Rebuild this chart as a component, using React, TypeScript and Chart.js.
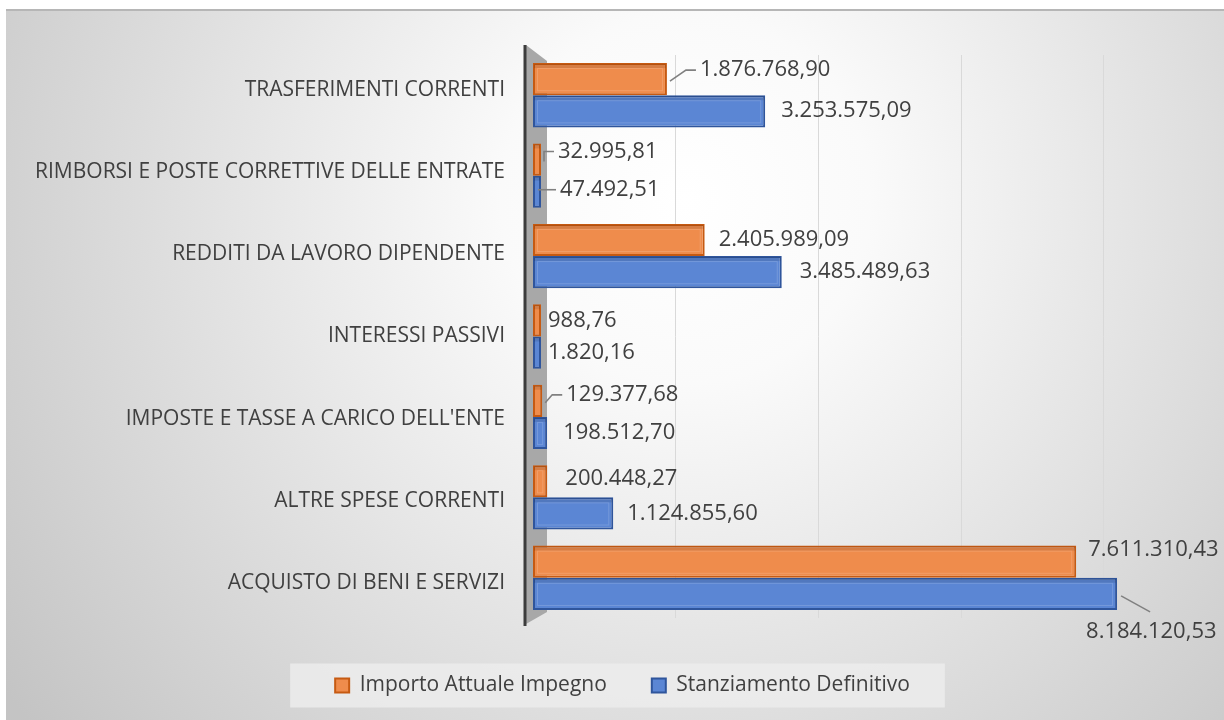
import React, { useEffect, useRef } from "react";
import { Chart, registerables } from "chart.js";

Chart.register(...registerables);

const categories = [
  "TRASFERIMENTI CORRENTI",
  "RIMBORSI E POSTE CORRETTIVE DELLE ENTRATE",
  "REDDITI DA LAVORO DIPENDENTE",
  "INTERESSI PASSIVI",
  "IMPOSTE E TASSE A CARICO DELL'ENTE",
  "ALTRE SPESE CORRENTI",
  "ACQUISTO DI BENI E SERVIZI",
];
const seriesNames = ["Importo Attuale Impegno", "Stanziamento Definitivo"];
const impegnoValues = [1876768.9, 32995.81, 2405989.09, 988.76, 129377.68, 200448.27, 7611310.43];
const stanziamentoValues = [3253575.09, 47492.51, 3485489.63, 1820.16, 198512.7, 1124855.6, 8184120.53];
const gridTicks = [2000000, 4000000, 6000000, 8000000];
const axisMax = 9500000;

const FONT = "'Open Sans', 'DejaVu Sans', sans-serif";
const TEXT = "#404040";

function formatIt(v: number): string {
  const [intPart, dec] = v.toFixed(2).split(".");
  return intPart.replace(/\B(?=(\d{3})+(?!\d))/g, ".") + "," + dec;
}

type LabelPos = { dx: number; dy: number; leader?: "elbow" | "flat" | "below" };
// label placement relative to the bar end / bar centre (presentation only)
const labelLayout: LabelPos[][] = [
  [
    { dx: 33, dy: -9, leader: "elbow" },
    { dx: 17, dy: -8, leader: "elbow" },
    { dx: 14, dy: 0 },
    { dx: 7, dy: 0 },
    { dx: 24, dy: -6, leader: "elbow" },
    { dx: 18, dy: -3 },
    { dx: 12, dy: -12 },
  ],
  [
    { dx: 16, dy: -1 },
    { dx: 19, dy: -2, leader: "flat" },
    { dx: 18, dy: 0 },
    { dx: 7, dy: 0 },
    { dx: 16, dy: 0 },
    { dx: 14, dy: 0 },
    { dx: -31, dy: 38, leader: "below" },
  ],
];

const PAD_LEFT = 28;

const backgroundPlugin = {
  id: "bgPlugin",
  beforeDraw(chart: any) {
    const { ctx, width, height } = chart;
    ctx.save();
    const g = ctx.createRadialGradient(680, 190, 0, 680, 190, 840);
    g.addColorStop(0, "#ffffff");
    g.addColorStop(0.22, "#fafafa");
    g.addColorStop(1, "#c4c4c4");
    ctx.fillStyle = g;
    ctx.fillRect(0, 0, width, height);
    ctx.fillStyle = "#b6b6b6";
    ctx.fillRect(0, 0, width, 2);
    // legend panel
    const lg = chart.legend;
    if (lg && lg.legendHitBoxes && lg.legendHitBoxes.length) {
      const hb = lg.legendHitBoxes;
      const first = hb[0];
      const last = hb[hb.length - 1];
      const left = first.left - 45;
      const right = last.left + last.width + 35;
      const cy = first.top + first.height / 2;
      ctx.fillStyle = "rgba(236,236,236,0.85)";
      ctx.fillRect(left, cy - 22, right - left, 44);
    }
    ctx.restore();
  },
  beforeDatasetsDraw(chart: any) {
    const { ctx, chartArea: a } = chart;
    ctx.save();
    // side wall + axis line
    const ax = a.left - 8;
    ctx.fillStyle = "#a8a8a8";
    ctx.beginPath();
    ctx.moveTo(ax + 1, a.top - 10);
    ctx.lineTo(a.left + 14, a.top + 6);
    ctx.lineTo(a.left + 14, a.bottom - 6);
    ctx.lineTo(ax + 1, a.bottom + 6);
    ctx.closePath();
    ctx.fill();
    ctx.strokeStyle = "#3c3c3c";
    ctx.lineWidth = 3;
    ctx.beginPath();
    ctx.moveTo(ax, a.top - 10);
    ctx.lineTo(ax, a.bottom + 8);
    ctx.stroke();
    ctx.restore();
  },
  afterDraw(chart: any) {
    // category labels, with the slight perspective spread of the original
    const { ctx } = chart;
    const ys = chart.scales.y;
    const n = categories.length;
    const mid = ys.getPixelForValue((n - 1) / 2);
    ctx.save();
    ctx.font = `21px ${FONT}`;
    ctx.fillStyle = TEXT;
    ctx.textAlign = "right";
    ctx.textBaseline = "middle";
    categories.forEach((c, i) => {
      const py = ys.getPixelForValue(i);
      ctx.fillText(c, ys.right - 28, py + (py - mid) * 0.0228);
    });
    ctx.restore();
  },
};

const barDecorPlugin = {
  id: "barDecor",
  afterDatasetsDraw(chart: any) {
    const { ctx } = chart;
    ctx.save();
    chart.data.datasets.forEach((ds: any, di: number) => {
      const meta = chart.getDatasetMeta(di);
      meta.data.forEach((el: any) => {
        const { x, y, base, height } = el.getProps(["x", "y", "base", "height"], true);
        const top = y - height / 2;
        const w = x - base;
        ctx.fillStyle = "rgba(0,0,0,0.10)";
        ctx.fillRect(base + 1, top + 1, w - 2, 4);
        if (w > 12) {
          ctx.strokeStyle = "rgba(255,255,255,0.16)";
          ctx.lineWidth = 1;
          ctx.strokeRect(base + 4.5, top + 5.5, w - 9, height - 10);
        }
      });
    });
    ctx.restore();
  },
};

const dataLabelPlugin = {
  id: "dataLabels",
  afterDatasetsDraw(chart: any) {
    const { ctx } = chart;
    ctx.save();
    ctx.font = `22px ${FONT}`;
    ctx.textAlign = "left";
    ctx.textBaseline = "middle";
    chart.data.datasets.forEach((ds: any, di: number) => {
      const meta = chart.getDatasetMeta(di);
      meta.data.forEach((el: any, i: number) => {
        const { x, y } = el.getProps(["x", "y"], true);
        const pos = labelLayout[di][i];
        const lx = x + pos.dx;
        const ly = y + pos.dy;
        if (pos.leader) {
          ctx.strokeStyle = "#808080";
          ctx.lineWidth = 1.6;
          ctx.beginPath();
          if (pos.leader === "elbow") {
            ctx.moveTo(x + 3, y + 2);
            ctx.lineTo(Math.max(x + 3, lx - 14), ly);
            ctx.lineTo(lx - 4, ly);
          } else if (pos.leader === "flat") {
            ctx.moveTo(x - 3, ly);
            ctx.lineTo(lx - 4, ly);
          } else {
            ctx.moveTo(x + 4, y + 2);
            ctx.lineTo(lx + 64, ly - 20);
          }
          ctx.stroke();
        }
        ctx.fillStyle = TEXT;
        ctx.fillText(formatIt(ds.data[i]), lx, ly);
      });
    });
    ctx.restore();
  },
};

export default function App() {
  const ref = useRef<HTMLCanvasElement>(null);
  useEffect(() => {
    if (!ref.current) return;
    const chart = new Chart(ref.current, {
      type: "bar",
      data: {
        labels: categories,
        datasets: [
          {
            label: seriesNames[0],
            data: impegnoValues,
            backgroundColor: "#EF8C4C",
            borderColor: "#C65A12",
            borderWidth: 2,
            borderSkipped: false,
            minBarLength: 8,
            categoryPercentage: 0.8,
            barPercentage: 1.0,
          },
          {
            label: seriesNames[1],
            data: stanziamentoValues,
            backgroundColor: "#5B86D4",
            borderColor: "#2F559C",
            borderWidth: 2,
            borderSkipped: false,
            minBarLength: 8,
            categoryPercentage: 0.8,
            barPercentage: 1.0,
          },
        ],
      },
      options: {
        indexAxis: "y",
        responsive: true,
        maintainAspectRatio: false,
        animation: false,
        layout: { padding: { left: PAD_LEFT, right: 13, top: 46, bottom: 14 } },
        scales: {
          x: {
            type: "linear",
            min: 0,
            max: axisMax,
            afterBuildTicks: (s: any) => {
              s.ticks = gridTicks.map((v) => ({ value: v }));
            },
            afterFit: (s: any) => {
              s.height = 12;
            },
            ticks: { display: false },
            grid: { color: "#d9d9d9", lineWidth: 1, drawTicks: false },
            border: { display: false },
          },
          y: {
            type: "category",
            afterFit: (s: any) => {
              s.width = 527 - PAD_LEFT;
            },
            grid: { display: false, drawTicks: false },
            border: { display: false },
            ticks: { display: false },
          },
        },
        plugins: {
          legend: {
            position: "bottom",
            labels: {
              color: TEXT,
              font: { family: FONT, size: 21 },
              boxWidth: 14,
              boxHeight: 14,
              padding: 45,
            },
          },
          tooltip: { enabled: false },
        },
      } as any,
      plugins: [backgroundPlugin, barDecorPlugin, dataLabelPlugin],
    });
    return () => chart.destroy();
  }, []);
  return (
    <div style={{ position: "absolute", left: 6, top: 9, width: 1218, height: 711 }}>
      <canvas ref={ref} />
    </div>
  );
}
